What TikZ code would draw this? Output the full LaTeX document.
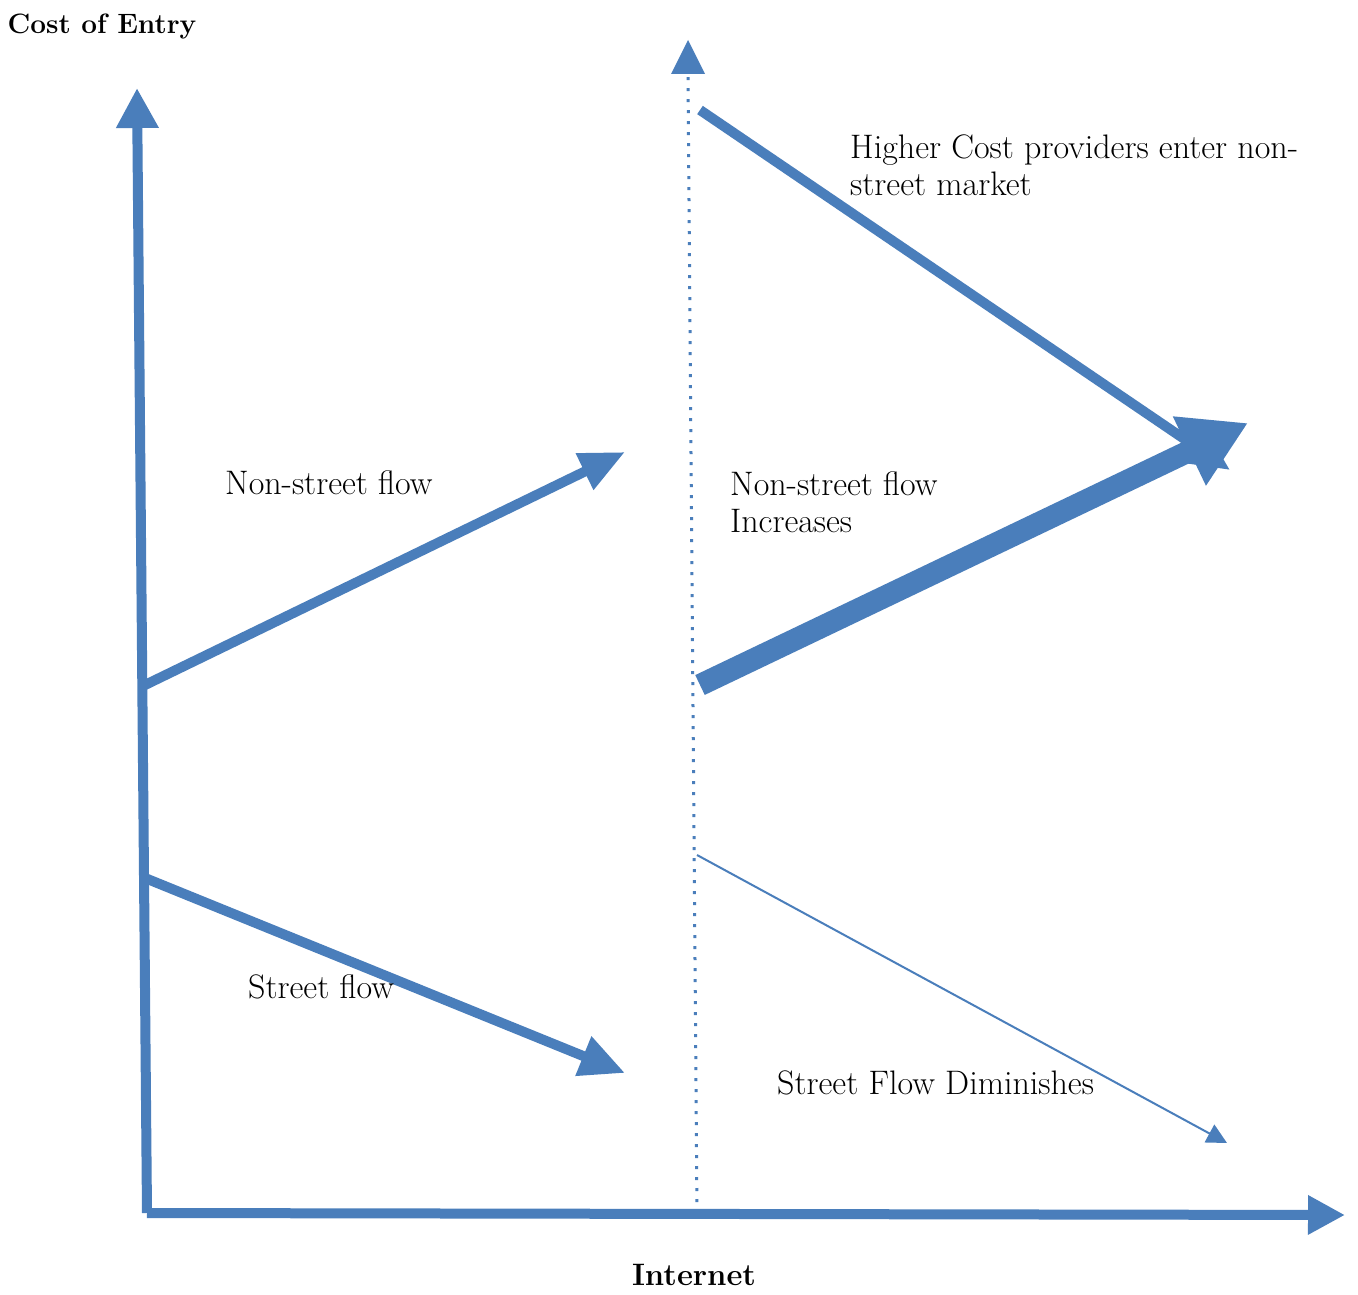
\documentclass[tikz,border=0pt]{standalone}
\usepackage{fontspec}
\usetikzlibrary{arrows.meta,calc}
\definecolor{arrowblue}{RGB}{74,126,187}
\begin{document}
\begin{tikzpicture}[x=1pt,y=-1pt,
  flow/.style={draw=arrowblue,line width=10pt},
  lbl/.style={font=\fontsize{34}{37}\selectfont,anchor=west,align=left,inner sep=0pt},
  axlbl/.style={font=\fontsize{28}{32}\selectfont\bfseries,inner sep=0pt}]
\useasboundingbox[fill=white] (0,0) rectangle (1358,1295);
% points
\coordinate (O) at (147,1213);
\coordinate (ytip) at (137,88);
\coordinate (xtip) at (1345,1215);
\coordinate (dbot) at (697,1213);
\coordinate (dtip) at (688,40);
\coordinate (dbase) at (688,74);
\coordinate (ns0) at (145,685);
\coordinate (ns1) at (625,452);
\coordinate (sf0) at (145,878);
\coordinate (sf1) at (625,1073);
\coordinate (hc0) at (700,110);
\coordinate (hc1) at (1230,470);
\coordinate (ni0) at (700,685);
\coordinate (ni1) at (1248,423);
\coordinate (sd0) at (697,855);
\coordinate (sd1) at (1227,1143);
% axes
\draw[flow,-{Triangle[length=40pt,width=40pt]}] (O) -- (ytip);
\draw[flow,-{Triangle[length=37pt,width=37pt]}] (O) -- (xtip);
% dotted internet line
\draw[arrowblue,line width=3pt,dash pattern=on 3pt off 8pt] (dbot) -- (dbase);
\fill[arrowblue] (dtip) -- ($(dbase)+(-17,0)$) -- ($(dbase)+(17,0)$) -- cycle;
% flows
\draw[flow,-{Triangle[length=45pt,width=38pt]}] (ns0) -- (ns1);
\draw[flow,-{Triangle[length=45pt,width=40pt]}] (sf0) -- (sf1);
\draw[flow,-{Triangle[length=50pt,width=45pt]}] (hc0) -- (hc1);
\draw[flow,line width=22pt,-{Triangle[length=65pt,width=72pt]}] (ni0) -- (ni1);
\draw[arrowblue,line width=2pt,-{Triangle[length=20pt,width=20pt]}] (sd0) -- (sd1);
% labels
\node[axlbl] (cost) at (102,27) {Cost of Entry};
\node[axlbl,font=\fontsize{31}{34}\selectfont\bfseries] (inet) at (694,1275) {Internet};
\node[lbl] (nsl) at (225,483) {Non-street flow};
\node[lbl] (sfl) at (248,987) {Street flow};
\node[lbl] (hcl) at (850,165) {Higher Cost providers enter non-\\street market};
\node[lbl] (nil) at (730,502) {Non-street flow\\Increases};
\node[lbl] (sdl) at (777,1083) {Street Flow Diminishes};
\end{tikzpicture}
\end{document}
